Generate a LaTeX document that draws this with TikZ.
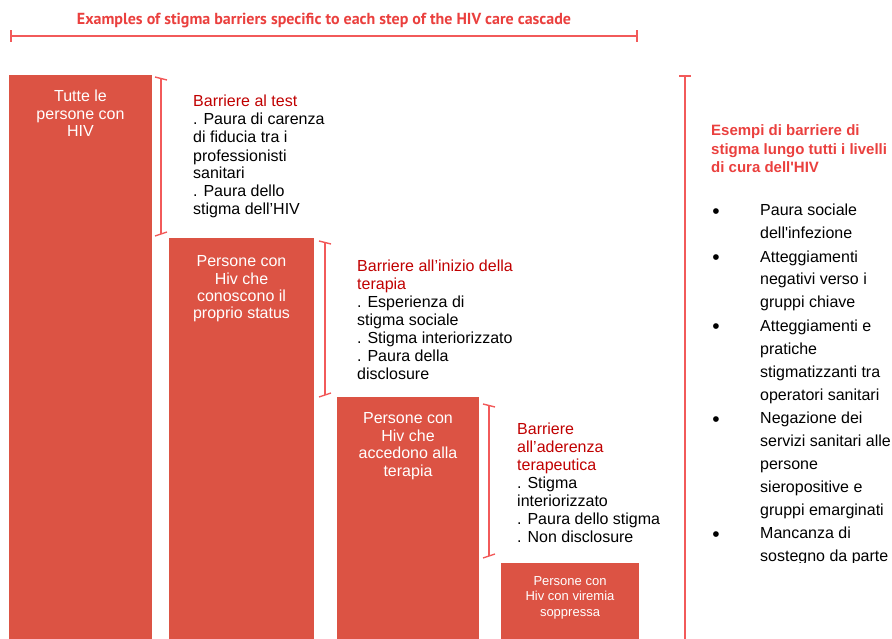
\documentclass[tikz,border=0pt]{standalone}
\usepackage{fontspec}
\setmainfont{Liberation Sans}
\newfontfamily\titlefont{PT Sans}
\usetikzlibrary{positioning}

\definecolor{barred}{RGB}{220,83,68}
\definecolor{linered}{RGB}{242,90,90}
\definecolor{headred}{RGB}{192,0,0}
\definecolor{titlered}{RGB}{234,64,62}

\tikzset{
  bar/.style={fill=barred, draw=none, anchor=north west, inner sep=0pt},
  bartext/.style={text=white, align=center, anchor=base, inner sep=0pt,
    font=\fontsize{16}{17.5}\selectfont},
  smallbartext/.style={bartext, font=\fontsize{13}{15.5}\selectfont},
  brk/.style={draw=linered, line width=1.4pt},
  barrier/.style={align=left, anchor=base west, inner sep=0pt,
    font=\fontsize{16}{18}\selectfont},
  item/.style={align=left, anchor=base west, inner sep=0pt,
    font=\fontsize{16}{23}\selectfont},
  dot/.style={anchor=base, inner sep=0pt, font=\fontsize{21}{23}\selectfont}
}

\begin{document}
\begin{tikzpicture}[x=1pt, y=-1pt]
  \useasboundingbox (0,0) rectangle (892,639);

  % title and top range
  \node[anchor=base, inner sep=0pt, text=titlered,
    font=\titlefont\bfseries\fontsize{16}{18}\selectfont] (title) at (324,25)
    {Examples of stigma barriers specific to each step of the HIV care cascade};
  \coordinate (rl) at (11,36);
  \coordinate (rr) at (637,36);
  \draw[brk] (rl) -- (rr);
  \draw[brk] ([yshift=-6pt]rl) -- ([yshift=6pt]rl);
  \draw[brk] ([yshift=-6pt]rr) -- ([yshift=6pt]rr);

  % cascade bars (text placed by its last baseline)
  \node[bar, minimum width=143pt, minimum height=564pt] (all) at (9,75) {};
  \node[bar, minimum width=145pt, minimum height=401pt] (aware) at (169,238) {};
  \node[bar, minimum width=142pt, minimum height=242pt] (treated) at (337,397) {};
  \node[bar, minimum width=138pt, minimum height=76pt] (suppressed) at (501,563) {};

  \node[bartext] (allt) at (80.5,137) {Tutte le\\persone con\\HIV};
  \node[bartext] (awaret) at (241.5,319) {Persone con\\Hiv che\\conoscono il\\proprio status};
  \node[bartext] (treatedt) at (408,476) {Persone con\\Hiv che\\accedono alla\\terapia};
  \node[smallbartext] (suppressedt) at (570,616) {Persone con\\Hiv con viremia\\soppressa};

  % brackets
  \coordinate (t1) at (161,78);  \coordinate (b1) at (161,234);
  \coordinate (t2) at (325,242); \coordinate (b2) at (325,395);
  \coordinate (t3) at (489,405); \coordinate (b3) at (489,556);
  \foreach \n in {1,2,3}{
    \draw[brk] (t\n) -- (b\n);
    \draw[brk] ([shift={(-6,-1)}]t\n) -- ([shift={(6,2)}]t\n);
    \draw[brk] ([shift={(-6,2)}]b\n) -- ([shift={(6,-2)}]b\n);
  }
  \coordinate (tr) at (685,76); \coordinate (br) at (685,639);
  \draw[brk] (tr) -- (br);
  \draw[brk] ([xshift=-6pt]tr) -- ([xshift=6pt]tr);

  % barriers per step
  \node[barrier] (test) at (193,215)
    {\textcolor{headred}{Barriere al test}\\. Paura di carenza\\di fiducia tra i\\professionisti\\sanitari\\. Paura dello\\stigma dell’HIV};
  \node[barrier] (start) at (357,379)
    {\textcolor{headred}{Barriere all’inizio della}\\\textcolor{headred}{terapia}\\. Esperienza di\\stigma sociale\\. Stigma interiorizzato\\. Paura della\\disclosure};
  \node[barrier] (adher) at (517,542)
    {\textcolor{headred}{Barriere}\\\textcolor{headred}{all’aderenza}\\\textcolor{headred}{terapeutica}\\. Stigma\\interiorizzato\\. Paura dello stigma\\. Non disclosure};

  % all levels
  \node[align=left, anchor=base west, inner sep=0pt, text=titlered,
    font=\bfseries\fontsize{15}{18.5}\selectfont] (levels) at (711,173)
    {Esempi di barriere di\\stigma lungo tutti i livelli\\di cura dell\textquotesingle HIV};
  \begin{scope}
    \clip (700,190) rectangle (892,562);
    \node[dot] (d1) at (716,219) {\textbullet};
    \node[item] (i1) at (760,239) {Paura sociale\\dell\textquotesingle infezione};
    \node[dot] (d2) at (716,265) {\textbullet};
    \node[item] (i2) at (760,308) {Atteggiamenti\\negativi verso i\\gruppi chiave};
    \node[dot] (d3) at (716,334) {\textbullet};
    \node[item] (i3) at (760,400) {Atteggiamenti e\\pratiche\\stigmatizzanti tra\\operatori sanitari};
    \node[dot] (d4) at (716,426) {\textbullet};
    \node[item] (i4) at (760,515) {Negazione dei\\servizi sanitari alle\\persone\\sieropositive e\\gruppi emarginati};
    \node[dot] (d5) at (716,541) {\textbullet};
    \node[item] (i5) at (760,561) {Mancanza di\\sostegno da parte};
  \end{scope}
\end{tikzpicture}
\end{document}
